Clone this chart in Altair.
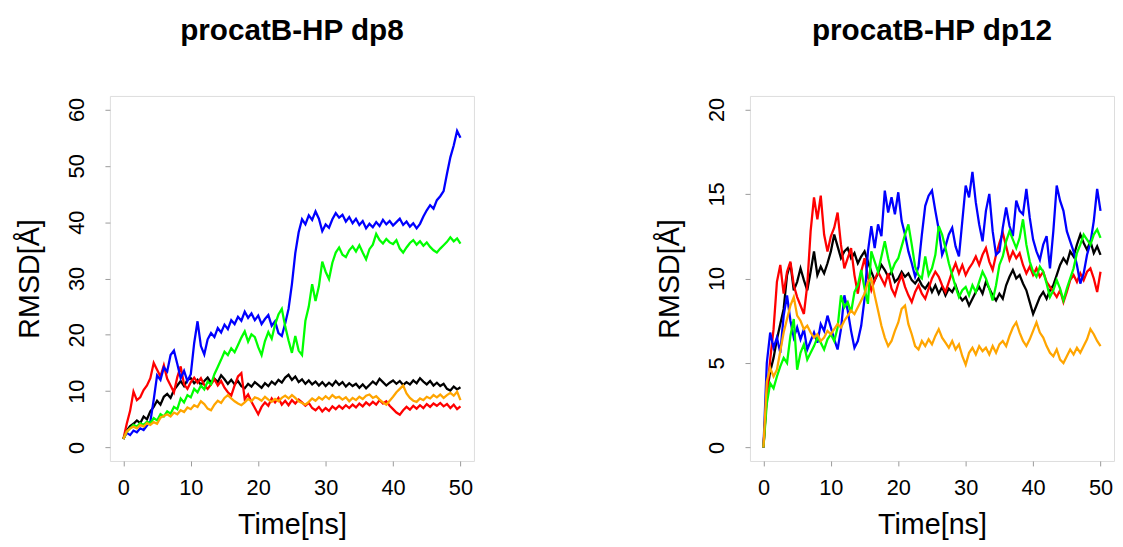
import altair as alt
import pandas as pd

# time grid in ns (0 .. 50, every 0.5 ns)
TIME = [i / 2 for i in range(101)]

SERIES_ORDER = ["black", "red", "blue", "green", "orange"]
SERIES_COLORS = {
    "black": "#000000",
    "red": "#ff0000",
    "blue": "#0000ff",
    "green": "#00ff00",
    "orange": "#ffa500",
}

# ---------------- procatB-HP dp8 (RMSD, Å) ----------------
dp8_blue = [1.5, 2.6, 2.2, 3.0, 2.7, 3.4, 3.1, 3.9, 4.6, 8.5,
            12.8, 12.0, 14.2, 13.5, 16.4, 17.2, 14.8, 12.3, 13.6, 11.8,
            13.0, 18.5, 22.4, 18.0, 16.5, 19.2, 20.3, 19.6, 21.2, 20.4,
            21.8, 21.0, 22.6, 21.9, 23.2, 22.5, 24.1, 23.0, 23.8, 22.6,
            23.4, 21.9, 22.8, 23.5, 21.6, 22.4, 20.3, 19.8, 22.0, 24.6,
            29.0, 34.5, 38.2, 40.5, 39.6, 41.2, 40.4, 41.9, 40.6, 38.4,
            39.6, 39.0, 40.5, 41.6, 40.8, 41.3, 40.1, 40.9, 39.8, 40.6,
            39.5, 40.2, 38.9, 39.7, 39.1, 40.0, 39.3, 40.4, 39.6, 40.2,
            39.4, 40.0, 40.6, 39.5, 40.1, 39.2, 39.8, 38.9, 39.7, 41.0,
            42.1, 43.0, 42.4, 43.9, 44.6, 45.5, 48.6, 51.5, 53.6, 56.2,
            55.0]
dp8_green = [1.5, 2.8, 3.4, 4.0, 3.7, 4.3, 4.0, 4.6, 4.3, 5.2,
             4.8, 5.9, 5.5, 6.4, 6.0, 7.2, 6.8, 8.7, 8.0, 9.3,
             8.9, 10.4, 9.8, 11.0, 10.3, 11.7, 11.2, 13.0, 14.3, 15.6,
             17.0, 16.4, 17.6, 16.9, 18.2, 19.5, 20.6, 18.8, 20.1, 19.6,
             17.8, 16.4, 18.9, 20.5, 19.3, 21.8, 23.6, 24.6, 21.5, 19.0,
             16.8, 19.8, 17.2, 16.4, 22.5, 25.0, 29.0, 26.0, 28.6, 33.0,
             31.2, 29.9, 32.8, 34.6, 35.5, 34.2, 33.8, 35.0, 35.7, 34.8,
             35.9, 34.6, 33.4, 35.2, 36.0, 37.9, 36.8, 36.2, 37.0, 36.4,
             36.1, 36.8, 35.3, 34.6, 35.5, 36.3, 36.8, 36.0, 36.6, 35.8,
             36.4, 35.6, 35.0, 34.6, 35.3, 35.9, 36.5, 37.3, 36.6, 37.1,
             36.2]
dp8_black = [1.5, 3.0, 3.8, 4.2, 4.8, 4.3, 5.5, 5.0, 6.4, 7.2,
             8.3, 7.6, 9.0, 9.5, 8.8, 10.2, 11.0, 11.8, 10.9, 12.0,
             12.3, 11.4, 12.0, 11.1, 11.8, 12.4, 11.5, 12.2, 11.6, 12.8,
             12.1, 11.3, 12.0, 11.2, 11.8, 10.9, 10.5, 11.3, 10.8, 11.6,
             11.1, 10.6, 11.4, 10.9, 11.7, 11.2, 12.0, 11.5, 12.4, 12.9,
             12.0, 12.6, 11.6, 12.1, 11.3, 11.9, 11.2, 11.7, 11.0, 11.6,
             10.9, 11.5, 11.0, 11.8, 11.1, 11.6, 10.8, 11.4, 10.9, 11.3,
             10.6, 11.2, 10.5, 11.1, 11.7, 11.2, 12.2, 11.6, 11.0, 11.5,
             11.9, 11.3, 11.8, 11.1, 11.6, 11.2, 11.9, 11.4, 12.3, 11.7,
             11.2, 11.8, 11.0, 11.5, 10.9, 11.3, 10.4, 10.1, 10.8, 10.3,
             10.7]
dp8_red = [1.5, 4.2, 6.5, 9.9, 8.4, 8.9, 10.2, 11.0, 12.3, 15.0,
           13.8, 12.6, 14.6, 12.2, 11.0, 9.8, 12.5, 14.4, 11.2, 10.4,
           11.6, 12.4, 11.5, 12.3, 11.1, 10.4, 11.2, 12.1, 11.0, 11.8,
           10.6, 9.8, 9.2, 11.0, 12.6, 13.2, 8.6, 9.4, 8.1, 7.0,
           5.9, 7.2, 8.0, 7.4, 8.7, 8.0, 8.8, 7.6, 8.3, 7.5,
           8.4, 7.8, 8.5, 8.0, 7.4, 7.9, 7.0, 6.6, 7.2, 6.4,
           7.0, 6.5, 7.3, 6.8, 7.4, 6.9, 7.5, 7.0, 7.6, 7.1,
           7.8, 7.3, 8.0, 7.5, 8.1, 7.6, 8.4, 7.8, 8.2, 7.4,
           6.8, 6.2, 5.8, 6.6, 7.2, 6.7, 7.4, 6.9, 7.5, 7.0,
           7.7, 7.2, 7.8, 7.4, 7.9, 7.3, 7.7, 7.0, 7.6, 6.8,
           7.3]
dp8_orange = [1.5, 2.8, 3.4, 3.7, 3.4, 4.0, 3.7, 4.3, 4.0, 4.5,
              4.2, 5.3, 5.6, 5.9, 5.5, 6.2, 5.9, 6.6, 6.3, 7.1,
              6.8, 7.5, 7.2, 8.2, 7.7, 6.9, 6.6, 7.6, 8.3, 7.9,
              8.8, 9.3, 8.7, 8.2, 7.8, 7.5, 8.0, 8.6, 8.2, 8.9,
              8.7, 8.3, 9.0, 8.5, 8.1, 8.6, 8.2, 8.8, 9.2, 8.7,
              9.3, 8.8, 8.2, 7.9, 7.6, 8.1, 8.7, 8.3, 8.9, 8.5,
              9.1, 8.6, 9.3, 8.8, 9.0, 8.5, 8.9, 8.2, 8.8, 8.4,
              9.0, 8.6, 9.2, 9.4, 8.8, 9.1, 8.5, 8.0, 7.6, 8.3,
              9.0, 9.8, 10.4, 11.0, 9.6, 8.8, 8.3, 8.1, 8.7, 8.4,
              9.0, 8.7, 9.3, 8.9, 9.4, 8.8, 9.3, 9.7, 9.2, 9.9,
              8.4]

# ---------------- procatB-HP dp12 (RMSD, Å) ----------------
dp12_blue = [0.0, 5.0, 6.8, 5.9, 6.5, 5.6, 7.8, 9.0, 7.5, 6.5,
             7.1, 6.4, 7.0, 5.8, 6.3, 6.8, 6.2, 7.3, 6.9, 7.8,
             7.1, 6.4, 5.8, 7.0, 9.0, 8.1, 6.9, 5.9, 6.3, 7.2,
             8.8, 11.6, 13.1, 11.8, 13.2, 12.5, 15.2, 13.9, 14.8, 13.8,
             15.1, 13.4, 12.6, 11.6, 10.9, 10.1, 10.7, 12.6, 14.3, 14.9,
             15.2, 14.0, 12.9, 11.4, 11.9, 12.6, 13.0, 11.9, 11.3, 13.4,
             15.5, 14.8, 16.3, 14.5, 13.2, 12.2, 14.0, 15.0, 12.8, 11.4,
             11.6, 13.0, 14.2, 13.1, 12.5, 14.6, 14.0, 13.8, 15.3, 13.6,
             12.3, 11.6, 11.1, 12.0, 12.5, 10.6, 12.8, 15.5, 14.6, 14.0,
             12.8, 12.2, 11.6, 10.8, 9.7, 10.3, 11.4, 12.1, 13.4, 15.3,
             14.0]
dp12_red = [0.0, 3.0, 5.2, 7.0, 9.8, 10.8, 9.1, 10.4, 11.0, 9.6,
            8.9, 8.4, 7.9, 9.6, 12.8, 14.8, 13.5, 14.9, 12.6, 11.6,
            12.5, 13.0, 13.9, 12.0, 10.6, 11.2, 11.8, 10.2, 9.1, 10.4,
            11.2, 10.1, 9.3, 9.9, 10.4, 10.0, 9.6, 10.3, 9.4, 9.0,
            9.7, 10.2, 9.5, 9.0, 8.6, 9.2, 9.6, 9.1, 8.8, 9.4,
            10.0, 10.4, 10.1, 9.6, 9.2, 9.8, 10.4, 10.9, 10.3, 10.8,
            10.2, 10.6, 10.9, 11.3, 10.8, 11.4, 11.8, 11.0, 10.5, 11.4,
            12.1, 12.7, 11.9, 11.1, 11.6, 11.2, 11.5, 10.8, 10.3, 10.7,
            10.2, 10.6, 10.1, 10.4, 9.8, 9.5, 9.2, 8.9, 9.3, 8.6,
            9.2, 9.9, 10.2, 9.8, 10.3, 9.9, 10.4, 10.6, 10.0, 9.2,
            10.4]
dp12_black = [0.0, 3.2, 4.5, 5.3, 6.4, 7.3, 8.2, 10.2, 10.9, 9.3,
              9.8, 10.6, 9.9, 9.3, 10.4, 11.6, 10.2, 10.7, 10.3, 10.9,
              11.6, 12.6, 11.9, 11.2, 11.6, 11.8, 11.2, 11.5, 10.9, 11.3,
              11.6, 11.0, 10.4, 9.9, 10.3, 10.8, 10.5, 10.1, 10.4, 9.8,
              10.0, 10.4, 10.1, 10.3, 9.9, 9.7, 10.0, 9.6, 9.4, 9.7,
              9.2, 9.6, 9.1, 9.5, 9.0, 9.4, 9.2, 9.6, 9.0, 8.7,
              8.9, 8.4, 8.8, 9.2, 9.5, 9.1, 9.8, 9.4, 9.0, 8.7,
              9.1, 8.8, 9.6, 10.1, 10.5, 10.0, 10.2, 9.7, 9.3, 8.6,
              7.9, 8.4, 8.9, 9.2, 8.8, 9.3, 9.6, 10.2, 10.8, 11.2,
              10.9, 11.6, 11.3, 12.0, 12.6, 12.1, 11.7, 12.2, 11.5, 11.9,
              11.4]
dp12_green = [0.0, 2.6, 3.8, 3.5, 4.2, 4.8, 5.3, 5.0, 6.6, 7.6,
              4.6, 5.6, 6.1, 5.2, 5.6, 6.0, 6.5, 6.2, 5.8, 6.4,
              6.7, 6.3, 7.1, 9.0, 8.3, 8.6, 8.0, 9.2, 9.6, 10.5,
              9.4, 8.5, 11.6, 11.0, 10.4, 11.3, 12.2, 11.2, 10.4, 10.9,
              11.2, 11.9, 12.6, 13.2, 12.0, 10.7, 10.2, 10.0, 11.3, 10.2,
              10.6, 11.4, 13.1, 12.6, 11.8, 10.9, 10.2, 9.5, 8.9, 9.3,
              9.5, 9.0, 9.6, 9.2, 9.8, 10.4, 10.0, 9.4, 8.7, 9.6,
              10.8, 11.3, 12.2, 12.8, 12.3, 11.8, 12.4, 13.5, 12.0, 11.0,
              10.4, 10.1, 10.7, 10.4, 9.7, 8.9, 9.3, 9.9, 9.4, 8.7,
              9.4, 10.0, 10.6, 11.5, 12.0, 12.6, 12.3, 12.0, 12.6, 12.9,
              12.4]
dp12_orange = [0.0, 3.9, 4.7, 4.2, 4.6, 5.7, 6.8, 7.6, 8.4, 8.9,
               7.8, 7.5, 7.0, 7.2, 6.8, 6.5, 6.7, 6.3, 6.5, 6.9,
               6.7, 7.0, 7.3, 7.1, 7.5, 7.8, 8.1, 7.9, 8.3, 8.7,
               9.1, 9.8, 10.0, 9.0, 8.1, 7.2, 6.5, 6.0, 6.3, 6.9,
               7.4, 8.2, 8.4, 7.3, 6.7, 6.0, 5.8, 6.3, 6.0, 6.4,
               6.1, 6.6, 7.0, 6.5, 6.2, 5.9, 6.3, 5.8, 6.1, 5.4,
               4.9, 5.6, 5.9, 5.5, 6.0, 5.7, 5.9, 5.5, 6.0, 5.6,
               6.1, 6.3, 6.0, 6.6, 7.1, 7.4, 6.8, 6.3, 6.0, 6.4,
               6.9, 7.4, 6.8, 6.5, 6.0, 5.6, 5.4, 5.8, 5.2, 5.0,
               5.4, 5.8, 5.5, 5.9, 5.6, 6.0, 6.4, 7.0, 6.7, 6.3,
               6.0]

DP8 = {"black": dp8_black, "red": dp8_red, "blue": dp8_blue,
       "green": dp8_green, "orange": dp8_orange}
DP12 = {"black": dp12_black, "red": dp12_red, "blue": dp12_blue,
        "green": dp12_green, "orange": dp12_orange}

X_TICKS = [0, 10, 20, 30, 40, 50]
DP8_Y_TICKS = [0, 10, 20, 30, 40, 50, 60]
DP12_Y_TICKS = [0, 5, 10, 15, 20]

FONT = "Liberation Sans"
GRAY = "#9a9a9a"


def long_table(d):
    rows = []
    for name in SERIES_ORDER:
        vals = d[name]
        assert len(vals) == len(TIME), (name, len(vals))
        for t, v in zip(TIME, vals):
            rows.append({"t": t, "v": v, "s": name})
    return pd.DataFrame(rows)


def panel(d, title, y_ticks):
    df = long_table(d)
    ymax = y_ticks[-1]
    pad = 0.04 * ymax
    x_enc = alt.X(
        "t:Q",
        scale=alt.Scale(domain=[-2, 52], nice=False, zero=False),
        axis=alt.Axis(
            values=X_TICKS, title="Time[ns]", grid=False, domain=False,
            tickColor=GRAY, tickSize=5, tickWidth=1,
            labelFont=FONT, labelFontSize=22, labelColor="black",
            labelPadding=12, labelFlush=False, labelOverlap=False,
            titleFont=FONT, titleFontSize=29, titleFontWeight="normal",
            titleColor="black", titlePadding=12,
        ),
    )
    y_enc = alt.Y(
        "v:Q",
        scale=alt.Scale(domain=[-pad, ymax + pad], nice=False, zero=False),
        axis=alt.Axis(
            values=y_ticks, title="RMSD[Å]", grid=False, domain=False,
            tickColor=GRAY, tickSize=5, tickWidth=1,
            labelFont=FONT, labelFontSize=22, labelColor="black",
            labelAngle=270, labelAlign="center", labelBaseline="alphabetic",
            labelPadding=22, labelFlush=False, labelOverlap=False,
            titleFont=FONT, titleFontSize=29, titleFontWeight="normal",
            titleColor="black", titleBaseline="alphabetic", titlePadding=27,
        ),
    )
    layers = []
    for name in SERIES_ORDER:
        layers.append(
            alt.Chart(df)
            .transform_filter(alt.datum.s == name)
            .mark_line(color=SERIES_COLORS[name], strokeWidth=2.3, clip=True)
            .encode(x=x_enc, y=y_enc)
        )
    return alt.layer(*layers).properties(
        width=368,
        height=369,
        title=alt.TitleParams(
            title, font=FONT, fontSize=30, fontWeight="bold", color="black",
            anchor="middle", baseline="alphabetic", offset=27,
        ),
    )


left = panel(DP8, "procatB-HP dp8", DP8_Y_TICKS)
right = panel(DP12, "procatB-HP dp12", DP12_Y_TICKS)

chart = (
    alt.hconcat(left, right, spacing=279, bounds="flush")
    .properties(padding={"left": 7, "top": 4, "right": 0, "bottom": 0})
    .configure_view(stroke=GRAY, strokeWidth=1)
    .configure(background="white")
)

chart.save("out.html", embed_options={"renderer": "svg", "actions": False})
